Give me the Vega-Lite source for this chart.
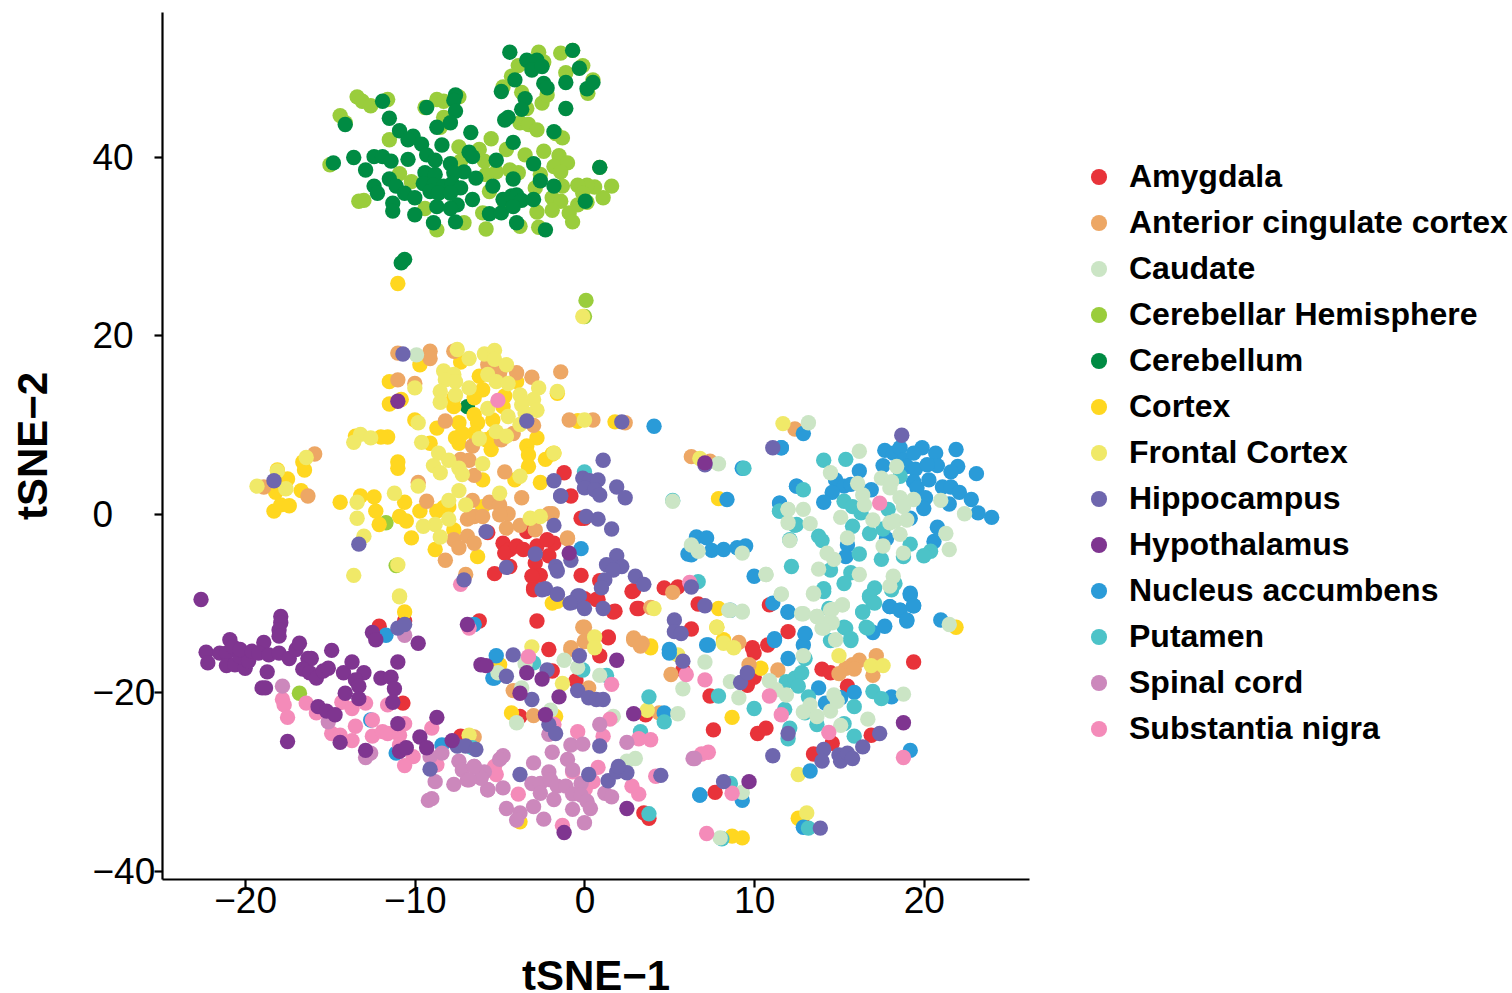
{"$schema":"https://vega.github.io/schema/vega-lite/v6.json","autosize":{"type":"none"},"padding":{"left":162,"top":12,"right":483,"bottom":114},"width":867,"height":867,"background":"white",
"config":{"view":{"stroke":null},"font":"Liberation Sans"},
"encoding":{"x":{"field":"x","type":"quantitative","title":"tSNE−1","scale":{"domain":[-24.9,26.2],"nice":false,"zero":false},"axis":{"grid":false,"values":[-20,-10,0,10,20],"domainColor":"black","domainWidth":2.2,"tickColor":"black","tickWidth":2.2,"tickSize":8,"labelFontSize":37,"labelColor":"black","labelPadding":-4,"labelFont":"Liberation Sans","titleFont":"Liberation Sans","titleFontSize":42,"titleFontWeight":"bold","titleColor":"black","titlePadding":37}},
"y":{"field":"y","type":"quantitative","title":"tSNE−2","scale":{"domain":[-40.9,56.2],"nice":false,"zero":false},"axis":{"grid":false,"values":[-40,-20,0,20,40],"domainColor":"black","domainWidth":2.2,"tickColor":"black","tickWidth":2.2,"tickSize":8,"labelFontSize":37,"labelColor":"black","labelAlign":"left","labelPadding":62,"labelOffset":1.5,"labelFont":"Liberation Sans","titleFont":"Liberation Sans","titleFontSize":42,"titleFontWeight":"bold","titleColor":"black","titlePadding":37}}},
"layer":[
{"data":{"name":"Amygdala"},"mark":{"type":"circle","size":237,"opacity":1},"encoding":{"color":{"datum":"Amygdala","type":"nominal","scale":{"domain":["Amygdala","Anterior cingulate cortex","Caudate","Cerebellar Hemisphere","Cerebellum","Cortex","Frontal Cortex","Hippocampus","Hypothalamus","Nucleus accumbens","Putamen","Spinal cord","Substantia nigra"],"range":["#E8333A","#EDA765","#CBE5C5","#9ACD3C","#008B43","#FFD720","#F0E968","#6E66AE","#7F3590","#2A9BD8","#4CC3C8","#CC88BC","#F48BB9"]},"legend":{"orient":"none","legendX":921,"legendY":149,"title":null,"labelFont":"Liberation Sans","labelFontWeight":"bold","labelFontSize":32,"labelColor":"black","labelOffset":14,"labelLimit":500,"clipHeight":32,"symbolType":"circle","symbolSize":260,"symbolStrokeWidth":0,"symbolOpacity":1,"rowPadding":14}}}},
{"data":{"name":"Cerebellar Hemisphere"},"mark":{"type":"circle","size":237,"opacity":1},"encoding":{"color":{"datum":"Cerebellar Hemisphere","type":"nominal"}}},
{"data":{"name":"Cerebellum"},"mark":{"type":"circle","size":237,"opacity":1},"encoding":{"color":{"datum":"Cerebellum","type":"nominal"}}},
{"data":{"name":"Cortex"},"mark":{"type":"circle","size":237,"opacity":1},"encoding":{"color":{"datum":"Cortex","type":"nominal"}}},
{"data":{"name":"Anterior cingulate cortex"},"mark":{"type":"circle","size":237,"opacity":1},"encoding":{"color":{"datum":"Anterior cingulate cortex","type":"nominal"}}},
{"data":{"name":"Frontal Cortex"},"mark":{"type":"circle","size":237,"opacity":1},"encoding":{"color":{"datum":"Frontal Cortex","type":"nominal"}}},
{"data":{"name":"Nucleus accumbens"},"mark":{"type":"circle","size":237,"opacity":1},"encoding":{"color":{"datum":"Nucleus accumbens","type":"nominal"}}},
{"data":{"name":"Putamen"},"mark":{"type":"circle","size":237,"opacity":1},"encoding":{"color":{"datum":"Putamen","type":"nominal"}}},
{"data":{"name":"Caudate"},"mark":{"type":"circle","size":237,"opacity":1},"encoding":{"color":{"datum":"Caudate","type":"nominal"}}},
{"data":{"name":"Substantia nigra"},"mark":{"type":"circle","size":237,"opacity":1},"encoding":{"color":{"datum":"Substantia nigra","type":"nominal"}}},
{"data":{"name":"Spinal cord"},"mark":{"type":"circle","size":237,"opacity":1},"encoding":{"color":{"datum":"Spinal cord","type":"nominal"}}},
{"data":{"name":"Hippocampus"},"mark":{"type":"circle","size":237,"opacity":1},"encoding":{"color":{"datum":"Hippocampus","type":"nominal"}}},
{"data":{"name":"Hypothalamus"},"mark":{"type":"circle","size":237,"opacity":1},"encoding":{"color":{"datum":"Hypothalamus","type":"nominal"}}}
],
"datasets":{
"Cerebellum":[{"x":-4.4,"y":51.7},{"x":-3.4,"y":50.8},{"x":-2.8,"y":50.8},{"x":-3.1,"y":49.7},{"x":-2.5,"y":50.1},{"x":-1.1,"y":48.3},{"x":-1.1,"y":45.4},{"x":-0.7,"y":51.9},{"x":-0.3,"y":49.9},{"x":0.15,"y":47.6},{"x":0.5,"y":48.3},{"x":-2.4,"y":48.2},{"x":-2.2,"y":47.7},{"x":-4.1,"y":48.6},{"x":-4.9,"y":47.3},{"x":-3.5,"y":46.5},{"x":-3.7,"y":45.3},{"x":-4.5,"y":44.4},{"x":-4.7,"y":44.1},{"x":-1.8,"y":42.8},{"x":-4.2,"y":41.6},{"x":-6.7,"y":42.7},{"x":-7.6,"y":46.9},{"x":-7.7,"y":46.3},{"x":-7.6,"y":45.1},{"x":-7.9,"y":43.8},{"x":-8.7,"y":43.3},{"x":-9.3,"y":45.5},{"x":-11.9,"y":46.2},{"x":-11.5,"y":44.3},{"x":-10.9,"y":42.9},{"x":-14.1,"y":43.6},{"x":-10.1,"y":42.3},{"x":-10.4,"y":41.9},{"x":-9.6,"y":41.4},{"x":-8.4,"y":41.3},{"x":-9.3,"y":40.2},{"x":-8.8,"y":39.6},{"x":-10.4,"y":39.7},{"x":-13.6,"y":39.9},{"x":-12.4,"y":40},{"x":-11.9,"y":40},{"x":-11.4,"y":39.5},{"x":-14.8,"y":39.3},{"x":-12.9,"y":38.5},{"x":-7.9,"y":39.2},{"x":-6.8,"y":40.5},{"x":-6.6,"y":40},{"x":-7.1,"y":38.3},{"x":-6.4,"y":37.6},{"x":-5.2,"y":39.6},{"x":-3,"y":39.2},{"x":-4.2,"y":37.5},{"x":-9.4,"y":38.2},{"x":-8.8,"y":38},{"x":-7.7,"y":38.2},{"x":-11.5,"y":37.5},{"x":-12.4,"y":36.7},{"x":-12.2,"y":35.9},{"x":-11.1,"y":36.7},{"x":-9.5,"y":37},{"x":-8.9,"y":36.8},{"x":-8.3,"y":36.7},{"x":-7.8,"y":37},{"x":-7.3,"y":36.5},{"x":-10.6,"y":35.9},{"x":-10,"y":35.4},{"x":-9.1,"y":36.1},{"x":-8.6,"y":35.9},{"x":-7.9,"y":35.9},{"x":-6.6,"y":35.2},{"x":-8.7,"y":34.4},{"x":-7.5,"y":34.6},{"x":-7.9,"y":34.2},{"x":-11.3,"y":34.8},{"x":-11.3,"y":33.9},{"x":-10,"y":33.5},{"x":-8.9,"y":32.6},{"x":-7.6,"y":32.7},{"x":-5.4,"y":36.7},{"x":-5.6,"y":33.6},{"x":-4.9,"y":33.7},{"x":-4.8,"y":35.2},{"x":-4.3,"y":35.6},{"x":-4,"y":35.7},{"x":-3.7,"y":35.1},{"x":-3,"y":35.2},{"x":-4.2,"y":34.4},{"x":-4,"y":32.6},{"x":-2.3,"y":31.8},{"x":-2.6,"y":37.3},{"x":-1.8,"y":36.7},{"x":0.05,"y":35},{"x":0.9,"y":38.8},{"x":-10.6,"y":28.5},{"x":-10.8,"y":28.1},{"x":-6.9,"y":12}],
"Cerebellar Hemisphere":[{"x":-2.7,"y":51.7},{"x":-1.4,"y":51.6},{"x":-0.7,"y":51.9},{"x":-0.1,"y":50.2},{"x":-1.1,"y":49.4},{"x":-2.4,"y":50.6},{"x":-3.9,"y":50.2},{"x":-4.3,"y":49},{"x":-4.8,"y":47.8},{"x":-3.7,"y":47.2},{"x":-2.5,"y":46},{"x":-2.2,"y":46.9},{"x":-3.4,"y":45.4},{"x":0.2,"y":47.1},{"x":0.5,"y":48.6},{"x":-3.8,"y":43.8},{"x":-3.3,"y":43.6},{"x":-2.8,"y":43},{"x":-1.7,"y":42.6},{"x":-1.3,"y":42.1},{"x":-5.5,"y":42},{"x":-4.6,"y":40.8},{"x":-3.5,"y":40.2},{"x":-2.4,"y":40.6},{"x":-1.5,"y":40.1},{"x":-1,"y":39.3},{"x":-1.8,"y":38.9},{"x":-1.4,"y":38.3},{"x":0.9,"y":38.8},{"x":1.6,"y":36.7},{"x":1.1,"y":35.4},{"x":0.6,"y":36.6},{"x":0.15,"y":36.8},{"x":-0.4,"y":36.8},{"x":-0.1,"y":35.9},{"x":0.15,"y":34.9},{"x":-1.3,"y":36.7},{"x":-1.9,"y":35.4},{"x":-1.4,"y":35},{"x":-0.4,"y":34.6},{"x":-0.9,"y":33.7},{"x":-0.7,"y":32.7},{"x":-1.9,"y":34},{"x":-2.8,"y":33.8},{"x":-2.7,"y":32.1},{"x":-2.6,"y":38},{"x":-2.9,"y":36.5},{"x":-4.4,"y":38.5},{"x":-3.9,"y":38.2},{"x":-5.2,"y":38.3},{"x":-5.8,"y":38},{"x":-5.9,"y":39.5},{"x":-6.2,"y":40.8},{"x":-7.4,"y":41.1},{"x":-7.3,"y":39.5},{"x":-5.6,"y":36.1},{"x":-4.7,"y":34.8},{"x":-6,"y":33.7},{"x":-7.1,"y":32.6},{"x":-5.8,"y":31.9},{"x":-8.7,"y":31.8},{"x":-9.4,"y":34.2},{"x":-13,"y":35.1},{"x":-13.3,"y":35},{"x":-10.9,"y":38.1},{"x":-10.2,"y":37.2},{"x":-11.5,"y":41.9},{"x":-15,"y":39.1},{"x":-14.4,"y":44.6},{"x":-14.1,"y":43.8},{"x":-13.4,"y":46.7},{"x":-13.1,"y":46.2},{"x":-12.6,"y":45.7},{"x":-11.6,"y":46.4},{"x":-9.4,"y":45.5},{"x":-8.7,"y":46.4},{"x":-8.3,"y":46.2},{"x":-7.4,"y":46.7},{"x":-8.3,"y":44.4},{"x":-8.5,"y":43.3},{"x":-3.8,"y":32.2},{"x":0.09,"y":23.9},{"x":0,"y":22.1},{"x":-11.7,"y":-1},{"x":-11.1,"y":-5.8},{"x":-16.8,"y":-20.1}],
"Cortex":[{"x":-11,"y":25.8},{"x":-9.7,"y":16.7},{"x":-7.3,"y":17},{"x":-11.5,"y":14.8},{"x":-11.5,"y":12.3},{"x":-10.8,"y":12.8},{"x":-10,"y":10.5},{"x":-8.7,"y":9.6},{"x":-7.7,"y":12},{"x":-6.2,"y":15.4},{"x":-6,"y":13.9},{"x":-6.5,"y":13},{"x":-4,"y":14.8},{"x":-1.6,"y":13.5},{"x":-4.7,"y":13.2},{"x":-4.8,"y":12},{"x":-7.7,"y":13},{"x":-7.4,"y":10.2},{"x":-6.5,"y":11.1},{"x":-6.3,"y":10.2},{"x":-5.4,"y":10.5},{"x":-7.6,"y":8.5},{"x":-7.4,"y":7.9},{"x":-7.2,"y":9},{"x":-6.5,"y":9},{"x":-5.8,"y":8.3},{"x":-5.4,"y":8.7},{"x":-5.5,"y":7.2},{"x":-2.8,"y":8.5},{"x":-3.4,"y":7.6},{"x":-3.3,"y":6.6},{"x":-3.3,"y":5.3},{"x":-2.3,"y":6.1},{"x":-1.9,"y":6.7},{"x":-4.1,"y":3.8},{"x":-2.6,"y":3.5},{"x":-6,"y":3.8},{"x":-11,"y":5.8},{"x":-11,"y":5.1},{"x":-9.1,"y":7.9},{"x":-11.6,"y":8.6},{"x":-12,"y":8.6},{"x":-13.5,"y":8.7},{"x":-0.4,"y":10.4},{"x":-14.4,"y":1.3},{"x":-13.2,"y":2},{"x":-12.4,"y":1.9},{"x":-12.3,"y":0.3},{"x":-12.1,"y":-1.2},{"x":-10.6,"y":1.3},{"x":-9.7,"y":0.3},{"x":-10.9,"y":-0.3},{"x":-10.5,"y":-0.8},{"x":-10.2,"y":-2.7},{"x":-8.7,"y":0.3},{"x":-8.3,"y":0.7},{"x":-8,"y":0.8},{"x":-8.8,"y":-4},{"x":-7.7,"y":-1.8},{"x":-6.3,"y":-4.8},{"x":-6,"y":0.8},{"x":-18.3,"y":0.3},{"x":-17.9,"y":1},{"x":-17.4,"y":0.9},{"x":-18.2,"y":2.4},{"x":-17.5,"y":3.9},{"x":-16.7,"y":2.6},{"x":-16.5,"y":4.9},{"x":-16.6,"y":5.8},{"x":-18.1,"y":4.9},{"x":1.8,"y":10.3},{"x":-0.4,"y":10.4},{"x":7.9,"y":1.7},{"x":-1.8,"y":6.8},{"x":7.9,"y":-10.6},{"x":7.8,"y":-12.7},{"x":8.2,"y":-14.3},{"x":3.9,"y":-14.8},{"x":-10.6,"y":-11},{"x":-4.3,"y":-22.3},{"x":-1.7,"y":-22.7},{"x":-5,"y":-16.9},{"x":3.9,"y":-15},{"x":-3.8,"y":-34.5},{"x":-1.9,"y":-10},{"x":-1.6,"y":-9.8},{"x":8.7,"y":-22.8},{"x":10.4,"y":-17.3},{"x":8.2,"y":-14.1},{"x":12.6,"y":-34.1},{"x":8.7,"y":-36.1},{"x":9.3,"y":-36.3},{"x":21.9,"y":-12.7}],
"Anterior cingulate cortex":[{"x":-11,"y":18},{"x":-9.1,"y":18.2},{"x":-9.1,"y":17.4},{"x":-7.7,"y":18.2},{"x":-5.7,"y":16.7},{"x":-5,"y":15.8},{"x":-4,"y":15.8},{"x":-3.1,"y":15.3},{"x":-1.4,"y":15.9},{"x":-11,"y":15},{"x":-10,"y":14.6},{"x":-8.2,"y":10.4},{"x":-0.9,"y":10.5},{"x":-3,"y":9.9},{"x":-4.2,"y":9},{"x":-4.9,"y":8.3},{"x":-6.6,"y":7.6},{"x":-15.9,"y":6.7},{"x":-16.3,"y":2},{"x":-18.9,"y":3},{"x":-7.3,"y":6.1},{"x":-6.8,"y":6},{"x":-6.5,"y":4.3},{"x":-4.7,"y":4.7},{"x":-9.8,"y":3.5},{"x":-9.3,"y":1.4},{"x":-6.6,"y":1.5},{"x":-5.6,"y":1.3},{"x":-3.7,"y":1.8},{"x":-5,"y":1},{"x":-4.5,"y":0},{"x":-6.9,"y":-0.6},{"x":-6.5,"y":-0.3},{"x":-6,"y":-0.3},{"x":-5,"y":-0.1},{"x":-4.6,"y":-1.6},{"x":-3.8,"y":-1.3},{"x":-2.1,"y":0},{"x":-2.9,"y":-1.8},{"x":-1,"y":-2.8},{"x":-7.7,"y":-2.9},{"x":-6.9,"y":-2.5},{"x":-6.5,"y":-3.3},{"x":-7.4,"y":-3.8},{"x":-8.2,"y":-5.2},{"x":-7,"y":-6.8},{"x":0.5,"y":10.5},{"x":2.4,"y":10.2},{"x":6.3,"y":6.4},{"x":7.4,"y":5.9},{"x":12.4,"y":9.5},{"x":-1,"y":-2.7},{"x":-0.1,"y":-12.7},{"x":0,"y":-14.3},{"x":2.9,"y":-13.9},{"x":3.4,"y":-14.5},{"x":9.1,"y":-14.4},{"x":-0.8,"y":-15},{"x":3.9,"y":-10.5},{"x":-1.9,"y":0},{"x":5.2,"y":-8.8},{"x":-6.5,"y":-25},{"x":0,"y":-12.7},{"x":0,"y":-14.3},{"x":-0.8,"y":-15.2},{"x":-4.2,"y":-19.8},{"x":0.25,"y":-19.5},{"x":2.9,"y":-14.1},{"x":3.3,"y":-14.8},{"x":5.1,"y":-18},{"x":-3,"y":-22.6},{"x":4.4,"y":-22.3},{"x":9.7,"y":-16.9},{"x":11.4,"y":-17.5},{"x":16.2,"y":-16.4},{"x":15.8,"y":-16.9},{"x":15.4,"y":-17.3},{"x":15,"y":-17.9},{"x":15.9,"y":-17.4},{"x":17.2,"y":-15.9},{"x":17,"y":-18.1}],
"Frontal Cortex":[{"x":-6.8,"y":17.4},{"x":-7.5,"y":18.4},{"x":-5.9,"y":17.9},{"x":-5.3,"y":18.3},{"x":-5.3,"y":17.3},{"x":-4.6,"y":16.7},{"x":-8.3,"y":16},{"x":-7.7,"y":15.6},{"x":-8.2,"y":15},{"x":-7.6,"y":14.8},{"x":-5.7,"y":15.6},{"x":-6.8,"y":14.1},{"x":-5.2,"y":14.8},{"x":-4.5,"y":14.6},{"x":-2.7,"y":14.1},{"x":-3.8,"y":13.3},{"x":-3,"y":12.8},{"x":-8.5,"y":13.7},{"x":-7.6,"y":13.3},{"x":-8.5,"y":12.5},{"x":-5.7,"y":11.8},{"x":-3.7,"y":12.2},{"x":-2.8,"y":11.6},{"x":-3.5,"y":11.3},{"x":-4.5,"y":10.9},{"x":-3.8,"y":10},{"x":-10,"y":14.1},{"x":-9.8,"y":10.2},{"x":-1.6,"y":13.7},{"x":-5.2,"y":9.2},{"x":-6.2,"y":8.4},{"x":-4.6,"y":8.7},{"x":-13.2,"y":8.9},{"x":-12.6,"y":8.5},{"x":-13.6,"y":8},{"x":-9.6,"y":8},{"x":-8.6,"y":6.8},{"x":-8,"y":6},{"x":-8.9,"y":5.4},{"x":-8.5,"y":4.6},{"x":-7.4,"y":5.1},{"x":-7.2,"y":4.4},{"x":-6,"y":5.6},{"x":-3.8,"y":4.2},{"x":-18.1,"y":4.8},{"x":-19.3,"y":3.1},{"x":-17.6,"y":2.8},{"x":-16.4,"y":6.3},{"x":-9.8,"y":3.1},{"x":-11.2,"y":2.3},{"x":-13.4,"y":1.3},{"x":-13.4,"y":-0.5},{"x":-13,"y":-2.5},{"x":-13.6,"y":-6.9},{"x":-11,"y":-5.7},{"x":-10.9,"y":-9.2},{"x":-7.4,"y":2.6},{"x":-7,"y":1},{"x":-5,"y":2.3},{"x":-8,"y":1.5},{"x":-8.8,"y":-1.2},{"x":-9.5,"y":-1.4},{"x":-8.5,"y":-2.6},{"x":-8,"y":-0.6},{"x":-3.2,"y":-0.5},{"x":-2.6,"y":-0.3},{"x":-1.8,"y":6.8},{"x":-0.1,"y":22.1},{"x":0,"y":10.5},{"x":6.8,"y":6.2},{"x":11.7,"y":10.1},{"x":7.8,"y":-12.7},{"x":8.2,"y":-14.5},{"x":0.6,"y":-13.8},{"x":4.1,"y":-10.6},{"x":-10.9,"y":-9.3},{"x":-6.8,"y":-24.8},{"x":-3.1,"y":-14.9},{"x":-1.3,"y":-19},{"x":0.6,"y":-15},{"x":5.5,"y":-15.8},{"x":3.7,"y":-22},{"x":8.8,"y":-15},{"x":15,"y":-15.9},{"x":16.9,"y":-17},{"x":17.6,"y":-17},{"x":12.6,"y":-29.2},{"x":13.1,"y":-33.5}],
"Nucleus accumbens":[{"x":4.1,"y":9.8},{"x":9.3,"y":5.1},{"x":11.6,"y":7.4},{"x":8.4,"y":1.6},{"x":6.6,"y":-2.6},{"x":7.2,"y":-2.7},{"x":7.5,"y":-4.1},{"x":8.2,"y":-4},{"x":6.1,"y":-4.5},{"x":6.3,"y":-4.6},{"x":9.5,"y":-3.6},{"x":9,"y":-3.8},{"x":10,"y":-7},{"x":12,"y":-11},{"x":11.5,"y":1.2},{"x":12.5,"y":3.1},{"x":-0.2,"y":-3.9},{"x":11.1,"y":-10},{"x":7.2,"y":-14.7},{"x":5,"y":-15.2},{"x":11.2,"y":-14},{"x":-11.7,"y":-13.6},{"x":-6.5,"y":-12.4},{"x":-12.6,"y":-23.1},{"x":-11.1,"y":-26.8},{"x":-8.4,"y":-25.9},{"x":-5.4,"y":-18.4},{"x":-5.2,"y":-15.9},{"x":-5.3,"y":-18.4},{"x":5,"y":-15.6},{"x":4.7,"y":-22.3},{"x":6.8,"y":-31.5},{"x":12,"y":-11},{"x":13,"y":-13.5},{"x":12.9,"y":-14.7},{"x":12,"y":-16.2},{"x":11.2,"y":-14.2},{"x":7.3,"y":-14.7},{"x":13.8,"y":-19.5},{"x":14.2,"y":-21.2},{"x":15.9,"y":-20},{"x":15.1,"y":-20.6},{"x":17,"y":-13.3},{"x":17.7,"y":-12.6},{"x":18.1,"y":-20.5},{"x":19,"y":-12},{"x":18.6,"y":-10.8},{"x":19.4,"y":-10.3},{"x":18,"y":-10.4},{"x":19.2,"y":-9.1},{"x":13.3,"y":-28.8},{"x":19.2,"y":-26.5},{"x":6.8,"y":-31.5},{"x":9.3,"y":-32.1},{"x":12.9,"y":-35.1},{"x":8.6,"y":-10.8},{"x":17.7,"y":7.1},{"x":17.6,"y":5.4},{"x":18.2,"y":6.8},{"x":18.6,"y":7.4},{"x":18.8,"y":6},{"x":19.9,"y":7.4},{"x":19.4,"y":6.8},{"x":20.7,"y":6.8},{"x":21.9,"y":7.2},{"x":20.8,"y":5.4},{"x":22,"y":5.3},{"x":21.6,"y":4.7},{"x":23.1,"y":4.5},{"x":19,"y":5.3},{"x":19.5,"y":5},{"x":20.2,"y":5.5},{"x":20.3,"y":3.8},{"x":19.4,"y":3.6},{"x":19.6,"y":2.9},{"x":21.1,"y":3},{"x":21.6,"y":3},{"x":22.1,"y":2.4},{"x":20.1,"y":1.8},{"x":21.5,"y":1.1},{"x":22.8,"y":1.6},{"x":20,"y":0.6},{"x":23.2,"y":0.1},{"x":24,"y":-0.4},{"x":16.9,"y":2.7},{"x":16.2,"y":4.8},{"x":14.8,"y":3.8},{"x":15.3,"y":3.1},{"x":14.6,"y":2.4},{"x":14.1,"y":1.3},{"x":15.7,"y":3.3},{"x":11.5,"y":1.2},{"x":12.5,"y":3.1},{"x":11.6,"y":7.4},{"x":12.9,"y":9},{"x":19.2,"y":-0.5},{"x":20.8,"y":-1.5},{"x":20.6,"y":-3.1},{"x":17.8,"y":-2.8},{"x":15.5,"y":-3.5},{"x":15.4,"y":-4.8},{"x":19.2,"y":-8.9},{"x":18,"y":-10.4},{"x":18.6,"y":-10.8},{"x":19.4,"y":-10.3},{"x":19,"y":-11.9},{"x":21,"y":-11.9},{"x":13,"y":-13.4}],
"Putamen":[{"x":9.4,"y":5.1},{"x":0,"y":4.7},{"x":6.7,"y":-7.6},{"x":5.2,"y":1.5},{"x":12.2,"y":-5.9},{"x":11.5,"y":0.3},{"x":12.5,"y":-1.2},{"x":12.1,"y":-2.9},{"x":-6.6,"y":-26.2},{"x":-3,"y":-16.7},{"x":1.3,"y":-18.1},{"x":-0.1,"y":-17.5},{"x":3.8,"y":-20.5},{"x":4.7,"y":-23.3},{"x":3.3,"y":-24.4},{"x":3.8,"y":-33.6},{"x":16.4,"y":-11},{"x":16.8,"y":-9.3},{"x":17,"y":-9.9},{"x":14.1,"y":-8.7},{"x":18.1,"y":-8.5},{"x":14.4,"y":-10.6},{"x":15.3,"y":-12.7},{"x":15.7,"y":-14.2},{"x":14.5,"y":-14.2},{"x":16.6,"y":-12.7},{"x":7.9,"y":-20.4},{"x":10,"y":-21.8},{"x":11.8,"y":-21.9},{"x":11.9,"y":-18.8},{"x":12.4,"y":-18.4},{"x":12.8,"y":-17.8},{"x":12.6,"y":-19.3},{"x":13,"y":-22.3},{"x":13.2,"y":-20.5},{"x":13.7,"y":-23.6},{"x":15.3,"y":-23.5},{"x":15.9,"y":-21.6},{"x":17,"y":-19.9},{"x":17.5,"y":-20.7},{"x":12.1,"y":-24},{"x":12,"y":-25.2},{"x":15.9,"y":-24.9},{"x":8.6,"y":-30.2},{"x":8.1,"y":-36.4},{"x":13.2,"y":-35.2},{"x":13,"y":-16.2},{"x":14.1,"y":6},{"x":15.4,"y":6.1},{"x":12.9,"y":2.7},{"x":11.5,"y":0.3},{"x":12.4,"y":-1.3},{"x":13.8,"y":-2.5},{"x":14,"y":-3},{"x":15.3,"y":1.4},{"x":15.8,"y":0.8},{"x":16.3,"y":0.1},{"x":17.9,"y":0.5},{"x":15.8,"y":-1.4},{"x":16.8,"y":-2.2},{"x":17.6,"y":-1.7},{"x":19.2,"y":-3.4},{"x":20.4,"y":-4.2},{"x":20,"y":-4.7},{"x":17.5,"y":-5.1},{"x":18.8,"y":-4.8},{"x":16.2,"y":-4.5},{"x":14.5,"y":-6.3},{"x":15.7,"y":-6.6},{"x":15.3,"y":-7.8},{"x":18.3,"y":-7.8},{"x":14.1,"y":-8.4},{"x":17.1,"y":-8.3},{"x":16.8,"y":-9.2},{"x":17.1,"y":-10},{"x":16.4,"y":-11},{"x":15.4,"y":-12.8},{"x":16.7,"y":-12.8},{"x":15.7,"y":-14},{"x":18.6,"y":4.2}],
"Caudate":[{"x":-9.9,"y":17.8},{"x":7.9,"y":5.6},{"x":5.2,"y":1.4},{"x":6.3,"y":-3.5},{"x":6.7,"y":-4.2},{"x":9.3,"y":-4.4},{"x":10.7,"y":-6.8},{"x":11.6,"y":-9},{"x":12,"y":0.5},{"x":12,"y":-1},{"x":12.1,"y":-3},{"x":8.6,"y":-10.8},{"x":9.3,"y":-10.9},{"x":-1.2,"y":-16.4},{"x":-0.4,"y":-17.2},{"x":0.9,"y":-18.1},{"x":-3.7,"y":-19.5},{"x":-4,"y":-23.4},{"x":5.8,"y":-19.6},{"x":5.5,"y":-22.4},{"x":1.7,"y":-22.7},{"x":2.5,"y":-27.7},{"x":3,"y":-27.4},{"x":-5.1,"y":-17.8},{"x":-3.5,"y":-16.8},{"x":-2,"y":-22},{"x":12.9,"y":-11.2},{"x":13.7,"y":-11.5},{"x":14.1,"y":-12.8},{"x":14.6,"y":-12.2},{"x":14.5,"y":-10.8},{"x":15.2,"y":-10.2},{"x":11.6,"y":-9},{"x":13.5,"y":-9},{"x":8.5,"y":-10.8},{"x":9.3,"y":-11},{"x":7.1,"y":-16.6},{"x":8.6,"y":-18.8},{"x":9.1,"y":-20.6},{"x":10.9,"y":-18.7},{"x":11.3,"y":-19.7},{"x":11.9,"y":-20.3},{"x":12.9,"y":-15.9},{"x":14.8,"y":-14.1},{"x":13.3,"y":-21.4},{"x":13.7,"y":-22.7},{"x":14.5,"y":-22.1},{"x":14.9,"y":-21},{"x":14.7,"y":-20.3},{"x":12.9,"y":-22.2},{"x":15.1,"y":-23.7},{"x":16.7,"y":-23},{"x":18.8,"y":-20.2},{"x":9.3,"y":-31.2},{"x":8,"y":-36.3},{"x":16.2,"y":7},{"x":14.5,"y":4.6},{"x":16.1,"y":3.4},{"x":16.4,"y":2.1},{"x":16.5,"y":1},{"x":17.5,"y":4},{"x":18.1,"y":3.6},{"x":18,"y":2.9},{"x":18.4,"y":5.3},{"x":18.6,"y":1.8},{"x":18.8,"y":0.8},{"x":19.4,"y":1.6},{"x":21,"y":1.5},{"x":22.4,"y":0},{"x":12,"y":0.5},{"x":12.9,"y":0.5},{"x":13.3,"y":-1.1},{"x":15.1,"y":-0.4},{"x":17,"y":-0.7},{"x":18,"y":-1},{"x":18.3,"y":-0.8},{"x":19,"y":-0.7},{"x":18.6,"y":-2.3},{"x":15.5,"y":-2.7},{"x":17.6,"y":-3.6},{"x":18.8,"y":-4.4},{"x":21.5,"y":-4},{"x":21.3,"y":-2.2},{"x":14.3,"y":-4.4},{"x":13.8,"y":-6.2},{"x":14.7,"y":-5.1},{"x":16.2,"y":-6.8},{"x":13.5,"y":-8.9},{"x":14.6,"y":-10.7},{"x":15.2,"y":-10.2},{"x":14.4,"y":-12.2},{"x":14,"y":-12.8},{"x":18.2,"y":-7},{"x":18,"y":-8.1},{"x":13.2,"y":10.2},{"x":21.5,"y":-12.4},{"x":10.7,"y":-6.8},{"x":12.8,"y":-11.2},{"x":13.7,"y":-11.5}],
"Substantia nigra":[{"x":-5.1,"y":12.7},{"x":-7.3,"y":-7.9},{"x":6.2,"y":-7.7},{"x":-17.8,"y":-20.8},{"x":-17.7,"y":-21.4},{"x":-17.5,"y":-22.8},{"x":-16.4,"y":-21.2},{"x":-15.8,"y":-22.3},{"x":-14.3,"y":-21.1},{"x":-13.7,"y":-21.8},{"x":-12.9,"y":-21.2},{"x":-11.6,"y":-21.4},{"x":-12.5,"y":-23.1},{"x":-13.5,"y":-23.8},{"x":-14.9,"y":-24.6},{"x":-14.4,"y":-24.8},{"x":-13.7,"y":-25.4},{"x":-12.5,"y":-24.9},{"x":-11.9,"y":-24.4},{"x":-11.6,"y":-24.6},{"x":-10.9,"y":-24.8},{"x":-10.9,"y":-25.9},{"x":-10.6,"y":-23.5},{"x":-9,"y":-24},{"x":-10.1,"y":-27.2},{"x":-10.6,"y":-28.2},{"x":-8.7,"y":-28.1},{"x":-6.8,"y":-12.8},{"x":-3.3,"y":-16},{"x":1.6,"y":-19.1},{"x":6,"y":-18},{"x":1.5,"y":-23},{"x":1.1,"y":-24.9},{"x":-0.4,"y":-24.4},{"x":3.2,"y":-31.4},{"x":2.8,"y":-30.5},{"x":0.8,"y":-28.4},{"x":0.5,"y":-30},{"x":0.05,"y":-30.8},{"x":-3.9,"y":-31.4},{"x":-0.7,"y":-28.9},{"x":-1.3,"y":-34.9},{"x":4.2,"y":-29.4},{"x":3.9,"y":-25.3},{"x":3.2,"y":-25.2},{"x":-5.3,"y":-28.3},{"x":-5.2,"y":-29.2},{"x":-1.8,"y":-23.6},{"x":7.1,"y":-18.6},{"x":10.9,"y":-20.4},{"x":11.6,"y":-22.5},{"x":14.4,"y":-24.5},{"x":7.3,"y":-26.7},{"x":6.9,"y":-26.9},{"x":18.8,"y":-27.3},{"x":8.7,"y":-31.3},{"x":7.2,"y":-35.8},{"x":17.4,"y":1.2}],
"Spinal cord":[{"x":-17.8,"y":-19.3},{"x":-15.1,"y":-23.3},{"x":-10.6,"y":-13.6},{"x":-12.6,"y":-26.8},{"x":-12.9,"y":-27.3},{"x":-9.1,"y":-27.2},{"x":-8.4,"y":-26.8},{"x":-8.8,"y":-30},{"x":-7.7,"y":-30.3},{"x":-7.4,"y":-27.7},{"x":-9,"y":-31.9},{"x":-9.2,"y":-32.1},{"x":-7.2,"y":-28.7},{"x":-6.5,"y":-28.3},{"x":-6.9,"y":-29.8},{"x":-6.1,"y":-29.6},{"x":-5.7,"y":-30.9},{"x":-5.9,"y":-28.9},{"x":-2.1,"y":-24.7},{"x":0.9,"y":-23.6},{"x":2.5,"y":-25.6},{"x":-0.8,"y":-25.9},{"x":-0.1,"y":-25.8},{"x":-1.9,"y":-26.7},{"x":-1,"y":-27.5},{"x":-3,"y":-27.9},{"x":-2.1,"y":-28.9},{"x":-0.7,"y":-28.7},{"x":-3.1,"y":-30.2},{"x":-2.6,"y":-30.2},{"x":-2,"y":-29.8},{"x":-1.6,"y":-30.5},{"x":-1.1,"y":-30.5},{"x":-0.2,"y":-30.2},{"x":-2.6,"y":-31.3},{"x":-1.8,"y":-32},{"x":-3,"y":-32.8},{"x":-0.7,"y":-31.4},{"x":-0.2,"y":-31.5},{"x":0.15,"y":-32.2},{"x":0.35,"y":-33},{"x":-0.7,"y":-33.1},{"x":-4.6,"y":-33},{"x":-3.8,"y":-33.5},{"x":-4,"y":-34.3},{"x":-2.4,"y":-34.2},{"x":0,"y":-34.6},{"x":-5.7,"y":-30.9},{"x":-4.8,"y":-30.7},{"x":-4.8,"y":-27.1},{"x":-6.1,"y":-29.6},{"x":1.2,"y":-31.3},{"x":1.6,"y":-31.7},{"x":6.4,"y":-27.4},{"x":-5,"y":-27.5},{"x":-6.5,"y":-28.3},{"x":-6.8,"y":-29.8},{"x":6.5,"y":-27.4}],
"Hippocampus":[{"x":-10.7,"y":17.9},{"x":-18.3,"y":3.7},{"x":-13.3,"y":-3.4},{"x":-1.8,"y":-1.3},{"x":-1.8,"y":3.7},{"x":-1.4,"y":2},{"x":-3.4,"y":10.4},{"x":-2.9,"y":-4.5},{"x":-1.7,"y":-5.9},{"x":-1.6,"y":-6.4},{"x":-4.6,"y":-6},{"x":-5.8,"y":-2},{"x":-2.3,"y":-8.4},{"x":-1.6,"y":-9},{"x":-0.4,"y":-9.2},{"x":-7.1,"y":-7.4},{"x":-0.8,"y":-5.2},{"x":2.2,"y":10.3},{"x":7.1,"y":5.5},{"x":11.1,"y":7.4},{"x":1.1,"y":6},{"x":-0.1,"y":4},{"x":0.3,"y":3.7},{"x":0.8,"y":3.8},{"x":0,"y":2.9},{"x":0.6,"y":2.7},{"x":0.9,"y":2.1},{"x":1.9,"y":3},{"x":2.4,"y":1.8},{"x":-1.4,"y":2},{"x":0.8,"y":-0.6},{"x":1.6,"y":-1.7},{"x":0.1,"y":-0.3},{"x":1.9,"y":-4.7},{"x":1.3,"y":-5.7},{"x":2.2,"y":-5.9},{"x":1.7,"y":-6.3},{"x":1.2,"y":-7.4},{"x":1,"y":-8.3},{"x":3,"y":-7},{"x":3.5,"y":-7.9},{"x":-1.6,"y":-9},{"x":-0.7,"y":-9.9},{"x":-0.3,"y":-9.2},{"x":0,"y":-10.6},{"x":1.1,"y":-10.6},{"x":6.3,"y":-8.2},{"x":7.1,"y":-10.3},{"x":5.3,"y":-11.9},{"x":5.3,"y":-13.2},{"x":5.7,"y":-13.4},{"x":-0.85,"y":-10},{"x":-2.5,"y":-8.5},{"x":-11,"y":-12.8},{"x":-10.6,"y":-12.4},{"x":-9.1,"y":-28.6},{"x":-7.5,"y":-26},{"x":-7,"y":-26},{"x":-6.4,"y":-26.4},{"x":-4.2,"y":-15.8},{"x":-4.6,"y":-18.2},{"x":-0.3,"y":-15.9},{"x":-2.2,"y":-17.5},{"x":-3.1,"y":-20.8},{"x":-0.4,"y":-19.8},{"x":0.25,"y":-20.6},{"x":0.7,"y":-20.8},{"x":1.1,"y":-20.8},{"x":-2.1,"y":-23.6},{"x":-1.7,"y":-24.6},{"x":0.9,"y":-26},{"x":-3.8,"y":-29.2},{"x":0.25,"y":-29.2},{"x":1.4,"y":-29.9},{"x":1.9,"y":-28.9},{"x":2.5,"y":-29},{"x":2,"y":-28.3},{"x":4.5,"y":-29.3},{"x":5.8,"y":-16.5},{"x":9.2,"y":-18.9},{"x":9.6,"y":-17.8},{"x":12,"y":-24.6},{"x":11.1,"y":-27.1},{"x":14.1,"y":-26.4},{"x":14,"y":-27.7},{"x":15,"y":-27},{"x":15.1,"y":-27.7},{"x":15.5,"y":-26.8},{"x":15.8,"y":-27.4},{"x":16.4,"y":-26.1},{"x":17.4,"y":-24.6},{"x":8.2,"y":-30},{"x":13.9,"y":-35.2},{"x":18.7,"y":8.8}],
"Hypothalamus":[{"x":-11,"y":12.6},{"x":-0.9,"y":-4.4},{"x":7.1,"y":5.7},{"x":-22.6,"y":-9.6},{"x":-17.9,"y":-11.5},{"x":-17.9,"y":-12.2},{"x":-18,"y":-13},{"x":-18,"y":-13.7},{"x":-20.9,"y":-14.1},{"x":-22.3,"y":-15.5},{"x":-22.2,"y":-16.7},{"x":-21.5,"y":-15.6},{"x":-21.1,"y":-15.6},{"x":-20.7,"y":-14.9},{"x":-21.1,"y":-17},{"x":-20.6,"y":-16.9},{"x":-20,"y":-17.3},{"x":-20.3,"y":-16},{"x":-19.8,"y":-16.5},{"x":-20.3,"y":-15.2},{"x":-19.6,"y":-15.4},{"x":-18.9,"y":-14.4},{"x":-19.2,"y":-15.6},{"x":-18.6,"y":-15.8},{"x":-18,"y":-15.6},{"x":-17.4,"y":-16.2},{"x":-17,"y":-15.2},{"x":-16.8,"y":-14.5},{"x":-16.3,"y":-16.2},{"x":-16.1,"y":-16.2},{"x":-16.6,"y":-17.4},{"x":-16.2,"y":-17.8},{"x":-15.8,"y":-18.4},{"x":-15.4,"y":-17.6},{"x":-15.1,"y":-17.3},{"x":-14.9,"y":-15.3},{"x":-18.7,"y":-17.7},{"x":-19,"y":-19.5},{"x":-18.8,"y":-19.5},{"x":-17.5,"y":-25.5},{"x":-14.2,"y":-17.8},{"x":-13.7,"y":-16.6},{"x":-13,"y":-17.8},{"x":-13.5,"y":-18.6},{"x":-13.3,"y":-19.3},{"x":-14.1,"y":-20.1},{"x":-13.3,"y":-20.7},{"x":-12,"y":-18.4},{"x":-11.4,"y":-18.3},{"x":-11.2,"y":-19.6},{"x":-11.3,"y":-21.1},{"x":-11,"y":-16.6},{"x":-12.5,"y":-13.3},{"x":-12.3,"y":-14.1},{"x":-9.8,"y":-14.5},{"x":-15.7,"y":-21.6},{"x":-15.2,"y":-22.1},{"x":-14.7,"y":-22.5},{"x":-14.4,"y":-25.6},{"x":-11,"y":-23.5},{"x":-10.9,"y":-26.6},{"x":-10.5,"y":-26.2},{"x":-8.7,"y":-22.8},{"x":-9.7,"y":-25},{"x":-9.3,"y":-26.2},{"x":-7.8,"y":-25.4},{"x":-12.9,"y":-26.5},{"x":-6.9,"y":-12.4},{"x":-6.1,"y":-16.9},{"x":-5.8,"y":-17},{"x":-3.4,"y":-17.8},{"x":-2.5,"y":-18.5},{"x":-1.5,"y":-20.5},{"x":-3.8,"y":-20.1},{"x":-2.3,"y":-22.5},{"x":1.9,"y":-16.4},{"x":2.9,"y":-22.4},{"x":2.5,"y":-33},{"x":-1.2,"y":-35.7},{"x":9.7,"y":-30},{"x":18.8,"y":-23.4}],
"Amygdala":[{"x":-1.2,"y":4.6},{"x":-0.8,"y":2},{"x":0,"y":-0.5},{"x":-1.8,"y":-3.3},{"x":-0.2,"y":-6.9},{"x":0.9,"y":-7.5},{"x":2.9,"y":-8.6},{"x":4.7,"y":-8.3},{"x":5.5,"y":-8.2},{"x":6.7,"y":-10.1},{"x":3.2,"y":-10.6},{"x":1.8,"y":-10.9},{"x":0.8,"y":-9.6},{"x":0,"y":-9.5},{"x":6.3,"y":-12.9},{"x":1.4,"y":-13.8},{"x":10.9,"y":-10.2},{"x":12,"y":-13.2},{"x":10.8,"y":-14.7},{"x":9.9,"y":-15},{"x":-5.7,"y":-2.1},{"x":-4.8,"y":-3.3},{"x":-4.4,"y":-4},{"x":-4.7,"y":-4.4},{"x":-4,"y":-3.6},{"x":-3.6,"y":-4},{"x":-3.4,"y":-2},{"x":-2.8,"y":-3.6},{"x":-2.2,"y":-2.9},{"x":-2.1,"y":-4.7},{"x":-2.9,"y":-5.5},{"x":-2.6,"y":-6.9},{"x":-3.1,"y":-7},{"x":-3,"y":-8.3},{"x":-5.3,"y":-6.7},{"x":-4.4,"y":-5.9},{"x":-0.2,"y":-0.5},{"x":-12.1,"y":-12.6},{"x":-10.6,"y":-12},{"x":-6.2,"y":-12},{"x":-10.7,"y":-21.2},{"x":-7.3,"y":-24.9},{"x":-2.1,"y":-15.2},{"x":0.9,"y":-15.9},{"x":-0.5,"y":-18.7},{"x":-1.9,"y":-17.6},{"x":-3.8,"y":-22.7},{"x":-2.8,"y":-12},{"x":1.4,"y":-13.9},{"x":5.8,"y":-17.5},{"x":3.6,"y":-22.5},{"x":3.5,"y":-33.5},{"x":3.8,"y":-34.1},{"x":-3,"y":-8.5},{"x":0.7,"y":-9.6},{"x":1.7,"y":-11},{"x":3.1,"y":-10.6},{"x":2.8,"y":-8.7},{"x":10,"y":-15.6},{"x":10,"y":-18.3},{"x":9.6,"y":-19.2},{"x":7.4,"y":-20.4},{"x":7.6,"y":-24.2},{"x":10.2,"y":-24.6},{"x":10.7,"y":-24},{"x":14,"y":-17.4},{"x":14.5,"y":-17.8},{"x":15.5,"y":-19.3},{"x":19.4,"y":-16.6},{"x":16.9,"y":-24.8},{"x":13.5,"y":-26.9},{"x":14.6,"y":-25.7},{"x":7.7,"y":-31.2},{"x":12.8,"y":-34.3}]
}}
